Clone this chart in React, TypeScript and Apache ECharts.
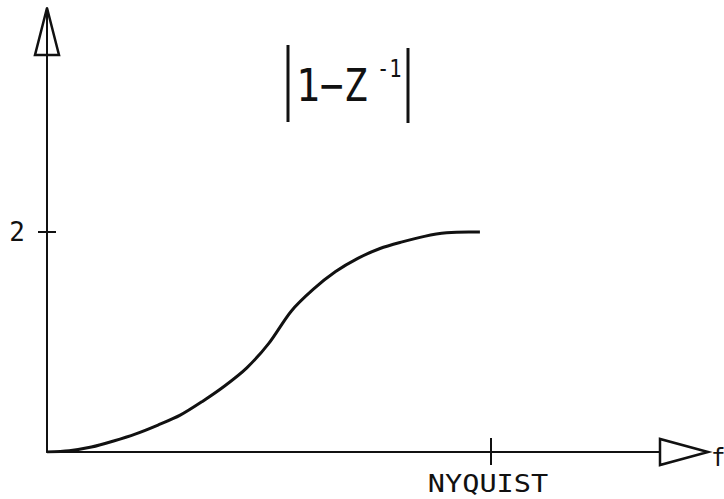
import React, { useEffect, useRef } from 'react';
import * as echarts from 'echarts';

// Magnitude response |1 - z^-1| sketched from DC up to the Nyquist frequency
const freq = [0, 0.05, 0.1, 0.15, 0.2, 0.25, 0.3, 0.35, 0.4, 0.45, 0.5, 0.55, 0.6, 0.65, 0.7, 0.75, 0.8, 0.85, 0.9, 0.95, 0.975];
const gain = [0, 0.012, 0.045, 0.1, 0.165, 0.245, 0.335, 0.46, 0.6, 0.765, 0.99, 1.28, 1.48, 1.64, 1.76, 1.85, 1.91, 1.96, 1.992, 2.0, 2.0];

const yTickValues = [2];
const yTickLabels = ['2'];
const xTickValues = [1];
const xTickLabels = ['NYQUIST'];

const xMax = 1.4887;
const yMax = 4.036;
const INK = '#111';
const MONO = '"DejaVu Sans Mono", "Liberation Mono", monospace';

export default function App() {
  const ref = useRef<HTMLDivElement>(null);

  useEffect(() => {
    document.body.style.margin = '0';
    const chart = echarts.init(ref.current!, null, { renderer: 'svg' });

    const axisBase = {
      type: 'value' as const,
      min: 0,
      axisLine: { show: true, onZero: false, lineStyle: { color: INK, width: 2 } },
      axisTick: { show: false },
      splitLine: { show: false },
    };

    chart.setOption({
      animation: false,
      backgroundColor: '#fff',
      grid: { left: 47, right: 16, top: 8, bottom: 47, outerBoundsMode: 'none' },
      xAxis: { ...axisBase, max: xMax, axisLabel: { show: false } },
      yAxis: {
        ...axisBase,
        max: yMax,
        axisLabel: {
          show: true,
          customValues: yTickValues,
          formatter: (v: number) => {
            const i = yTickValues.indexOf(v);
            return i >= 0 ? yTickLabels[i] : '';
          },
          fontFamily: MONO,
          fontSize: 26,
          color: INK,
          margin: 22,
        },
      },
      series: [
        {
          type: 'line',
          data: freq.map((f, i) => [f, gain[i]]),
          smooth: 0.3,
          symbol: 'none',
          showSymbol: false,
          lineStyle: { color: INK, width: 3 },
        },
      ],
    });

    const px = (x: number, y: number) => chart.convertToPixel({ gridIndex: 0 }, [x, y]) as number[];
    const o = px(0, 0);
    const xe = px(xMax, 0);
    const ye = px(0, yMax);

    const graphics: any[] = [];

    // hollow arrowheads at the ends of both axes
    graphics.push({
      type: 'polygon',
      z: 100,
      shape: { points: [[o[0], ye[1]], [o[0] - 12, ye[1] + 47], [o[0] + 12, ye[1] + 47]] },
      style: { fill: 'none', stroke: INK, lineWidth: 2.5, lineJoin: 'miter' },
    });
    graphics.push({
      type: 'polygon',
      z: 100,
      shape: { points: [[xe[0], o[1]], [xe[0] - 48, o[1] - 13], [xe[0] - 48, o[1] + 13]] },
      style: { fill: '#fff', stroke: INK, lineWidth: 2.5, lineJoin: 'miter' },
    });

    // tick crosses on the axes
    yTickValues.forEach((v) => {
      const p = px(0, v);
      graphics.push({
        type: 'line',
        shape: { x1: p[0] - 9, y1: p[1], x2: p[0] + 9, y2: p[1] },
        style: { stroke: INK, lineWidth: 2 },
      });
    });
    xTickValues.forEach((v, i) => {
      const p = px(v, 0);
      graphics.push({
        type: 'line',
        shape: { x1: p[0], y1: p[1] - 14, x2: p[0], y2: p[1] + 13 },
        style: { stroke: INK, lineWidth: 2 },
      });
      graphics.push({
        type: 'text',
        x: p[0] - 3,
        y: p[1] + 32,
        scaleX: 1.19,
        style: {
          text: xTickLabels[i],
          fontFamily: MONO,
          fontSize: 24,
          fill: INK,
          align: 'center',
          verticalAlign: 'middle',
        },
      });
    });

    // axis name for frequency
    graphics.push({
      type: 'text',
      x: xe[0] + 3,
      y: o[1] + 6,
      style: { text: 'f', fontFamily: MONO, fontSize: 24, fill: INK, align: 'left', verticalAlign: 'middle' },
    });

    // title: |1 - Z^-1|
    graphics.push({
      type: 'line',
      shape: { x1: 288, y1: 45, x2: 288, y2: 122 },
      style: { stroke: INK, lineWidth: 3 },
    });
    graphics.push({
      type: 'line',
      shape: { x1: 408, y1: 48, x2: 408, y2: 123 },
      style: { stroke: INK, lineWidth: 3 },
    });
    graphics.push({
      type: 'text',
      x: 296,
      y: 86,
      scaleX: 0.88,
      style: { text: '1\u2212Z', fontFamily: MONO, fontSize: 45, fill: INK, align: 'left', verticalAlign: 'middle' },
    });
    graphics.push({
      type: 'text',
      x: 377,
      y: 68,
      scaleX: 0.85,
      style: { text: '-1', fontFamily: MONO, fontSize: 24, fill: INK, align: 'left', verticalAlign: 'middle' },
    });

    chart.setOption({ graphic: graphics });

    return () => chart.dispose();
  }, []);

  return <div ref={ref} style={{ width: 724, height: 499 }} />;
}
